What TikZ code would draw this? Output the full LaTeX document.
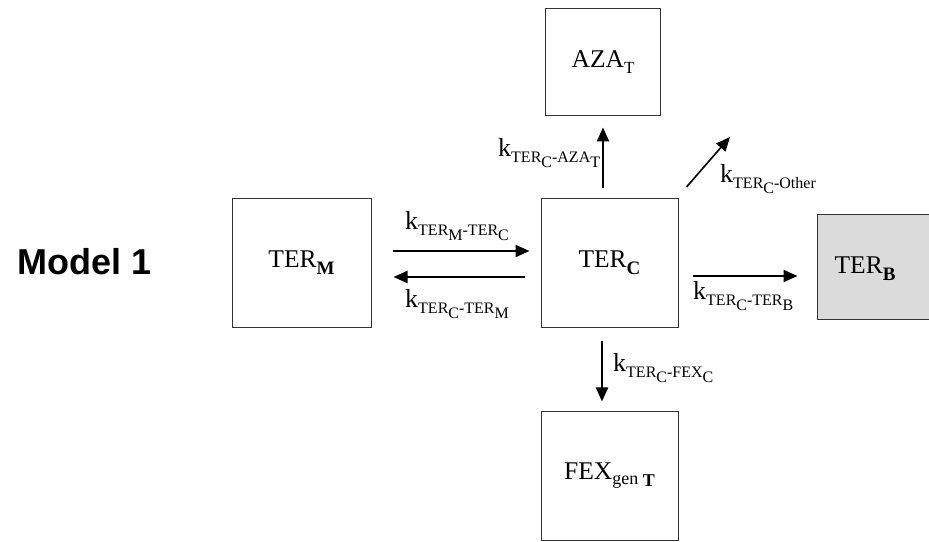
\documentclass[tikz,border=0pt]{standalone}
\usepackage{fontspec}
\setmainfont{Liberation Serif}
\newfontfamily\arialfont{Liberation Sans}
\usetikzlibrary{arrows.meta}

\newcommand{\ksub}[1]{\raisebox{-5.5pt}{\fontsize{16}{16}\selectfont #1}}
\newcommand{\bsub}[1]{\raisebox{-7pt}{\fontsize{19}{20}\selectfont #1}}

\tikzset{
  comp/.style={draw=black!80, line width=1pt, inner sep=0pt, font=\fontsize{25.5}{30}\selectfont},
  flow/.style={line width=2.2pt, -{Triangle[length=14pt,width=12pt]}},
  rate/.style={inner sep=0pt, font=\fontsize{26}{30}\selectfont},
}

\begin{document}
\begin{tikzpicture}[x=1pt,y=1pt]
\useasboundingbox (0,0) rectangle (929,541);

\node[inner sep=0pt, anchor=base west, font=\arialfont\bfseries\fontsize{36}{40}\selectfont] (model) at (17,266) {Model 1};

\node[comp, minimum width=139pt, minimum height=129pt] (TERM) at (301.5,278) {TER\bsub{\textbf{M}}};
\node[comp, minimum width=137pt, minimum height=129pt] (TERC) at (609.5,278) {TER\bsub{\textbf{C}}};
\node[comp, minimum width=115pt, minimum height=107pt] (AZA) at (603,478.5) {AZA\raisebox{-6pt}{\fontsize{17}{18}\selectfont T}};
\node[comp, minimum width=137pt, minimum height=128pt] (FEX) at (609.5,65) {FEX\raisebox{-5pt}{\fontsize{18}{18}\selectfont gen \raisebox{-2pt}{\textbf{T}}}};
\node[comp, fill=black!14, minimum width=126pt, minimum height=105pt] (TERB) at (880,273.5) {};
\node[comp, draw=none] (TERBtext) at (865,272) {TER\bsub{\textbf{B}}};
\coordinate (other) at (730,404);

% flows
\draw[flow, shorten <=21pt, shorten >=11pt] ([yshift=12pt]TERM.east) -- ([yshift=12pt]TERC.west);
\draw[flow, shorten <=16pt, shorten >=22pt] ([yshift=-14pt]TERC.west) -- ([yshift=-14pt]TERM.east);
\draw[flow, shorten <=10pt, shorten >=11pt] (AZA.south |- TERC.north) -- (AZA.south);
\draw[flow, line width=1.6pt] ([shift={(8pt,11pt)}]TERC.north east) -- (other);
\draw[flow, shorten <=14pt, shorten >=19pt] ([yshift=-13pt]TERC.east) -- ([yshift=-13pt]TERC.east -| TERB.west);
\draw[flow, shorten <=13pt, shorten >=10pt] ([xshift=-7.5pt]TERC.south) -- ([xshift=-7.5pt]FEX.north);

% rate constants
\node[rate, anchor=base west] (kMC) at (405,311) {k\ksub{TER\ksub{M}-TER\ksub{C}}};
\node[rate, anchor=base west] (kCM) at (405,233) {k\ksub{TER\ksub{C}-TER\ksub{M}}};
\node[rate, anchor=base west] (kCA) at (498,384) {k\ksub{TER\ksub{C}-AZA\ksub{T}}};
\node[rate, anchor=base west] (kCO) at (720,358) {k\ksub{TER\ksub{C}-Other}};
\node[rate, anchor=base west] (kCB) at (693,241) {k\ksub{TER\ksub{C}-TER\ksub{B}}};
\node[rate, anchor=base west] (kCF) at (613,169) {k\ksub{TER\ksub{C}-FEX\ksub{C}}};
\end{tikzpicture}
\end{document}
